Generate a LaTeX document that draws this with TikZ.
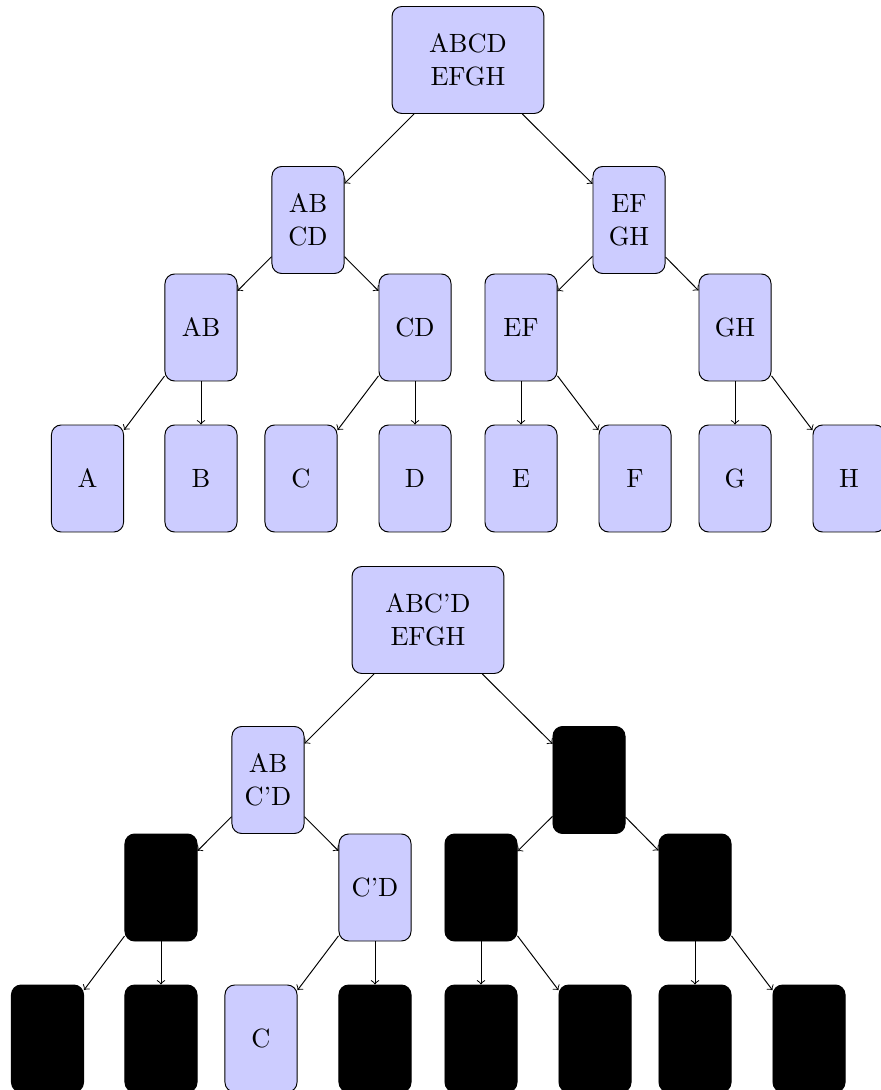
\documentclass[tikz,border=0pt]{standalone}
\begin{document}
\begin{tikzpicture}[x=0.415pt,y=-0.415pt,
  tnode/.style={draw, rounded corners=4pt, fill=blue!20, align=center,
    minimum width=29.9pt, minimum height=44.4pt, inner sep=2pt,
    font=\fontsize{10.95}{13.6}\selectfont},
  wide/.style={minimum width=63pt},
  dark/.style={tnode, fill=black},
  edge/.style={->}]
\useasboundingbox (0,0) rectangle (880,1090);
% ---------- top tree ----------
\node[tnode,wide] (r) at (468,60) {ABCD\\EFGH};
\node[tnode] (a) at (308,220) {AB\\CD};
\node[tnode] (b) at (629,220) {EF\\GH};
\node[tnode] (aa) at (201,327.5) {AB};
\node[tnode] (ab) at (415,327.5) {CD};
\node[tnode] (ba) at (521,327.5) {EF};
\node[tnode] (bb) at (735,327.5) {GH};
\node[tnode] (lA) at (87.5,478.5) {A};
\node[tnode] (lB) at (201,478.5) {B};
\node[tnode] (lC) at (301,478.5) {C};
\node[tnode] (lD) at (415,478.5) {D};
\node[tnode] (lE) at (521,478.5) {E};
\node[tnode] (lF) at (635,478.5) {F};
\node[tnode] (lG) at (735,478.5) {G};
\node[tnode] (lH) at (849,478.5) {H};
\foreach \p/\c in {r/a, r/b, a/aa, a/ab, b/ba, b/bb, aa/lA, aa/lB, ab/lC, ab/lD, ba/lE, ba/lF, bb/lG, bb/lH}
  \draw[edge] (\p) -- (\c);
% ---------- bottom tree ----------
\begin{scope}[shift={(-40,560)}]
\node[tnode,wide] (R) at (468,60) {ABC'D\\EFGH};
\node[tnode] (A) at (308,220) {AB\\C'D};
\node[dark] (B) at (629,220) {};
\node[dark] (AA) at (201,327.5) {};
\node[tnode] (AB) at (415,327.5) {C'D};
\node[dark] (BA) at (521,327.5) {};
\node[dark] (BB) at (735,327.5) {};
\node[dark] (LA) at (87.5,478.5) {};
\node[dark] (LB) at (201,478.5) {};
\node[tnode] (LC) at (301,478.5) {C};
\node[dark] (LD) at (415,478.5) {};
\node[dark] (LE) at (521,478.5) {};
\node[dark] (LF) at (635,478.5) {};
\node[dark] (LG) at (735,478.5) {};
\node[dark] (LH) at (849,478.5) {};
\foreach \p/\c in {R/A, R/B, A/AA, A/AB, B/BA, B/BB, AA/LA, AA/LB, AB/LC, AB/LD, BA/LE, BA/LF, BB/LG, BB/LH}
  \draw[edge] (\p) -- (\c);
\end{scope}
\end{tikzpicture}
\end{document}
